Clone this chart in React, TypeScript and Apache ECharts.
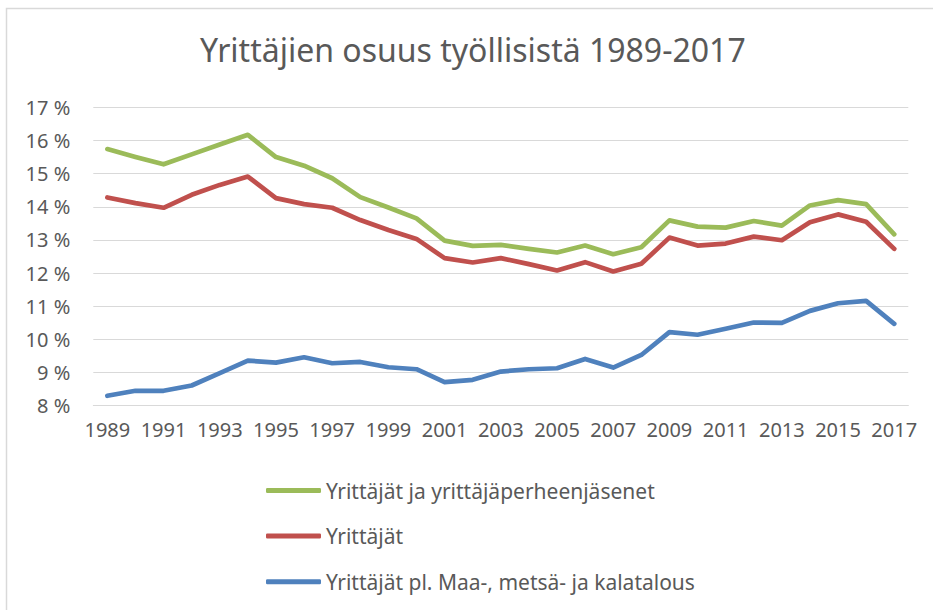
import React, { useEffect, useRef } from "react";
import * as echarts from "echarts";

const years = [
  "1989","1990","1991","1992","1993","1994","1995","1996","1997","1998",
  "1999","2000","2001","2002","2003","2004","2005","2006","2007","2008",
  "2009","2010","2011","2012","2013","2014","2015","2016","2017",
];

const seriesNames = [
  "Yrittäjät ja yrittäjäperheenjäsenet",
  "Yrittäjät",
  "Yrittäjät pl. Maa-, metsä- ja kalatalous",
];

const familyIncl = [
  15.74, 15.5, 15.28, 15.58, 15.88, 16.17, 15.5, 15.24, 14.86, 14.29,
  13.98, 13.65, 12.98, 12.82, 12.85, 12.73, 12.62, 12.83, 12.57, 12.78,
  13.59, 13.4, 13.37, 13.57, 13.43, 14.04, 14.2, 14.08, 13.17,
];

const entrepreneurs = [
  14.28, 14.11, 13.97, 14.36, 14.66, 14.91, 14.26, 14.08, 13.97, 13.6,
  13.3, 13.03, 12.45, 12.32, 12.45, 12.27, 12.08, 12.33, 12.05, 12.28,
  13.07, 12.83, 12.89, 13.1, 12.99, 13.53, 13.77, 13.55, 12.73,
];

const exclAgri = [
  8.3, 8.45, 8.45, 8.61, 8.98, 9.36, 9.3, 9.46, 9.28, 9.32,
  9.16, 9.1, 8.71, 8.78, 9.03, 9.1, 9.13, 9.41, 9.15, 9.53,
  10.22, 10.14, 10.32, 10.51, 10.5, 10.86, 11.09, 11.16, 10.47,
];

const colors = ["#9BBB59", "#C0504D", "#4F81BD"];
const FONT = "Noto Sans";
const TEXT = "#595959";

export default function App() {
  const ref = useRef<HTMLDivElement>(null);
  useEffect(() => {
    if (!ref.current) return;
    const chart = echarts.init(ref.current, undefined, { renderer: "svg" });
    const data = [familyIncl, entrepreneurs, exclAgri];
    chart.setOption({
      animation: false,
      backgroundColor: "#ffffff",
      title: {
        text: "Yrittäjien osuus työllisistä 1989-2017",
        left: 195,
        top: 28,
        textStyle: { fontFamily: FONT, fontSize: 32, fontWeight: "normal", color: TEXT },
      },
      graphic: [
        {
          type: "rect",
          shape: { x: 6.5, y: 8.5, width: 960, height: 640 },
          style: { fill: "none", stroke: "#d9d9d9", lineWidth: 1.5 },
          silent: true,
        },
      ],
      legend: {
        orient: "vertical",
        left: 261,
        top: 475,
        icon: "roundRect",
        itemWidth: 55,
        itemHeight: 5,
        itemGap: 24.6,
        data: seriesNames,
        textStyle: { fontFamily: FONT, fontSize: 21, color: TEXT, lineHeight: 20 },
      },
      grid: { left: 93.3, right: 24.7, top: 107.3, bottom: 204.3, containLabel: false },
      xAxis: {
        type: "category",
        data: years,
        boundaryGap: true,
        axisTick: { show: false },
        axisLine: { lineStyle: { color: "#d9d9d9", width: 1 } },
        axisLabel: { interval: 1, fontFamily: FONT, fontSize: 20, color: TEXT, margin: 14 },
      },
      yAxis: {
        type: "value",
        min: 8,
        max: 17,
        interval: 1,
        axisLine: { show: false },
        axisTick: { show: false },
        splitLine: { lineStyle: { color: "#d9d9d9", width: 1 } },
        axisLabel: {
          formatter: "{value} %",
          fontFamily: FONT,
          fontSize: 20,
          color: TEXT,
          margin: 23,
        },
      },
      series: seriesNames.map((name, i) => ({
        name,
        type: "line",
        data: data[i],
        showSymbol: false,
        symbol: "none",
        color: colors[i],
        lineStyle: { width: 4.7, color: colors[i], cap: "round", join: "round" },
      })),
    });
    return () => chart.dispose();
  }, []);
  return <div ref={ref} style={{ width: 933, height: 610, position: "absolute", left: 0, top: 0 }} />;
}
